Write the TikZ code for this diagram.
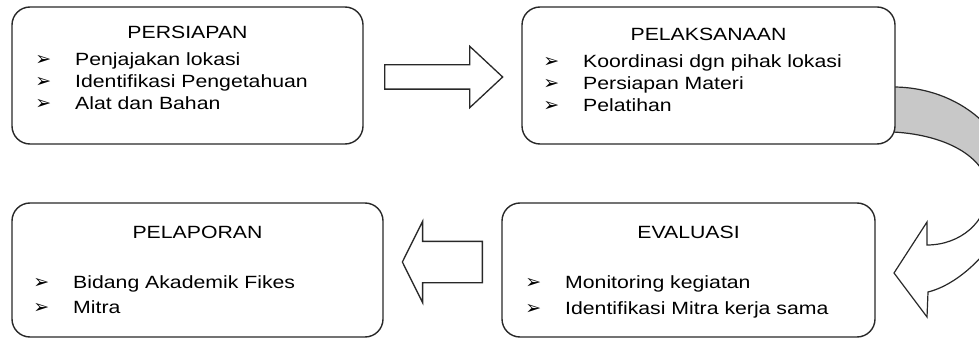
\documentclass[tikz,border=0pt]{standalone}
\usepackage{fontspec}
\setmainfont{Liberation Sans}[FakeStretch=1.2]
\newfontfamily\arrowfont{DejaVu Sans}
\usetikzlibrary{shapes.arrows}
\definecolor{fline}{RGB}{40, 40, 40}
\definecolor{fgray}{RGB}{200, 200, 200}
\newcommand{\bul}{\llap{{\arrowfont\fontsize{19}{19}\selectfont ➢}\hspace{24pt}}}

\begin{document}
\begin{tikzpicture}[x=1pt, y=-1pt, font=\fontsize{17.7}{22}\selectfont, text=black]
                \useasboundingbox (0,0) rectangle (979,339);

                % curved arrow from PELAKSANAAN down to EVALUASI
                \begin{scope}
                \clip (0,0) rectangle (979,339);
                \filldraw[fill=fgray, draw=fline, line width=1.2pt] (886,87) -- (893,87) .. controls (959,87) and (1013,133) .. (1013,190)
                    -- (988,190) .. controls (988,160) and (950,135) .. (893,132) -- (886,132) -- cycle;
                \filldraw[fill=white, draw=fline, line width=1.2pt] (1013,190) .. controls (1010,235) and (965,283) .. (928,292)
                    -- (927,317) -- (894,273) -- (927,222) -- (927,245) .. controls (960,245) and (988,222) .. (988,190) -- cycle;
                \end{scope}

                \tikzstyle{box}=[rectangle, rounded corners=18pt, draw=fline, line width=1.4pt, fill=white, inner sep=0]
                \node[box, minimum width=351pt, minimum height=137pt] (B1) at (187.5,75.5) {};
                \node[box, minimum width=373pt, minimum height=137pt] (B2) at (708.5,75.5) {};
                \node[box, minimum width=371pt, minimum height=134pt] (B3) at (197.5,270) {};
                \node[box, minimum width=373pt, minimum height=134pt] (B4) at (688.5,270) {};

                \tikzstyle{blockarrow}=[single arrow, draw=fline, line width=1.3pt, fill=white, inner xsep=0, single arrow head indent=0, anchor=tail]
                \node[blockarrow, minimum height=118pt, inner ysep=11.5pt, single arrow head extend=18.5pt, single arrow tip angle=86] (A1) at (384,77) {};
                \node[blockarrow, shape border rotate=180, minimum height=80pt, inner ysep=20pt, single arrow head extend=20pt, single arrow tip angle=127] (A2) at (483,262) {};

                \tikzstyle{title}=[anchor=base, inner sep=0]
                \node[title] (T1) at (187.5,39) {PERSIAPAN};
                \node[title] (T2) at (708.5,41) {PELAKSANAAN};
                \node[title] (T3) at (197.5,238) {PELAPORAN};
                \node[title] (T4) at (688.5,238) {EVALUASI};

                \tikzstyle{item}=[anchor=base west, inner sep=0]
                \node[item] (I11) at (75,66) {\bul Penjajakan lokasi};
                \node[item] (I12) at (75,88) {\bul Identifikasi Pengetahuan};
                \node[item] (I13) at (75,110) {\bul Alat dan Bahan};
                \node[item] (I21) at (583,68) {\bul Koordinasi dgn pihak lokasi};
                \node[item] (I22) at (583,90) {\bul Persiapan Materi};
                \node[item] (I23) at (583,112) {\bul Pelatihan};
                \node[item] (I31) at (73,288) {\bul Bidang Akademik Fikes};
                \node[item] (I32) at (73,313) {\bul Mitra};
                \node[item] (I41) at (565,288) {\bul Monitoring kegiatan};
                \node[item] (I42) at (565,314) {\bul Identifikasi Mitra kerja sama};
            \end{tikzpicture}
\end{document}
